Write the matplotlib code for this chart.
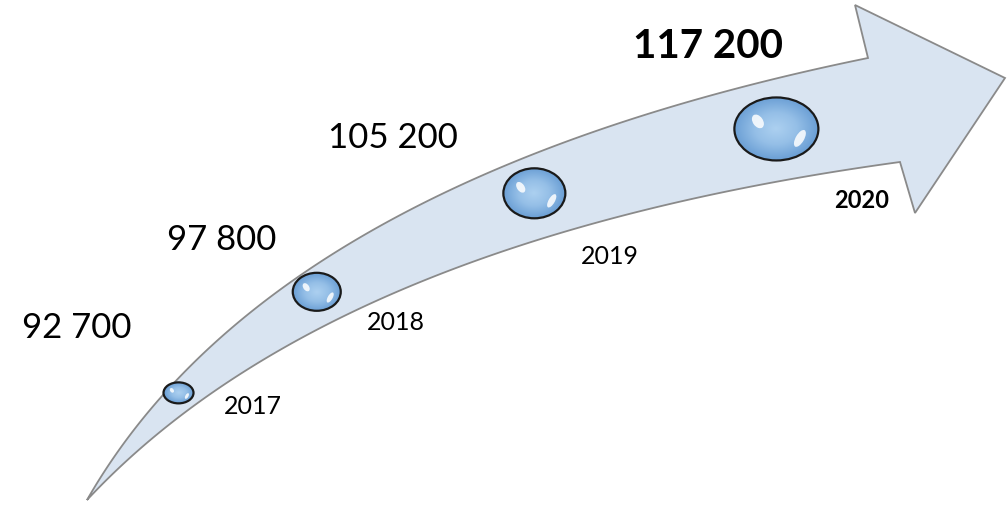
import matplotlib
matplotlib.use("Agg")
import matplotlib.pyplot as plt
import numpy as np
from matplotlib.patches import Polygon, Ellipse

# data
years = ["2017", "2018", "2019", "2020"]
values = [92700, 97800, 105200, 117200]

# layout (pixel space, y downwards)
bubble_t = [0.185, 0.40, 0.665, 0.905]
bubble_w = [30, 48, 62, 84]
bubble_h = [21, 38, 50, 63]
value_pos = [(77, 328), (222, 240), (393, 138), (708, 47)]
year_pos = [(253, 406), (396, 323), (610, 257), (862, 200)]

plt.rcParams['font.family'] = ['Lato', 'DejaVu Sans']

fig = plt.figure(figsize=(10.07, 5.05), dpi=100)
ax = fig.add_axes([0, 0, 1, 1])
ax.set_xlim(0, 1007)
ax.set_ylim(505, 0)
ax.axis('off')


def bezier(p0, c, p2, t):
    t = np.asarray(t)[:, None]
    p0, c, p2 = map(np.array, (p0, c, p2))
    return (1 - t) ** 2 * p0 + 2 * t * (1 - t) * c + t ** 2 * p2


# ------------------------------- arrow body -------------------------------- #
tail = (87, 500)
t = np.linspace(0, 1, 200)
upper = bezier(tail, (270, 180), (868, 58), t)
lower = bezier(tail, (330, 240), (900, 162), t)
head = np.array([[855, 5], [1005, 78], [915, 213]])
outline = np.vstack([upper, head, lower[::-1]])
ax.add_patch(Polygon(outline, closed=True, fc='#d9e4f1', ec='#8a8a8a', lw=1.3, zorder=1))

# --------------------------------- bubbles --------------------------------- #
mid = bezier((87, 495), (300, 200), (884, 110), bubble_t)
yy, xx = np.mgrid[-1:1:200j, -1:1:200j]
grad = np.clip(np.sqrt(xx ** 2 + yy ** 2), 0, 1)
cmap = matplotlib.colors.LinearSegmentedColormap.from_list(
    'bub', ['#acd0f0', '#95bfe7', '#6b9fd5'])

for (cx, cy), w, h in zip(mid, bubble_w, bubble_h):
    e = Ellipse((cx, cy), w, h, fc='none', ec='none', zorder=2)
    ax.add_patch(e)
    im = ax.imshow(grad, cmap=cmap, extent=(cx - w / 2, cx + w / 2, cy + h / 2, cy - h / 2),
                   zorder=2, interpolation='bilinear')
    im.set_clip_path(e)
    # highlights
    ax.add_patch(Ellipse((cx - w * 0.22, cy - h * 0.12), w * 0.12, h * 0.24, angle=-35,
                         fc='white', ec='none', alpha=0.85, zorder=3))
    ax.add_patch(Ellipse((cx + w * 0.28, cy + h * 0.15), w * 0.1, h * 0.3, angle=30,
                         fc='white', ec='none', alpha=0.85, zorder=3))
    ax.add_patch(Ellipse((cx, cy), w, h, fc='none', ec='#1a1a1a', lw=1.6, zorder=4))

# --------------------------------- labels ---------------------------------- #
for i, (v, yr) in enumerate(zip(values, years)):
    last = i == len(values) - 1
    txt = f"{v:,}".replace(",", " ")
    ax.text(*value_pos[i], txt, ha='center', va='center',
            fontsize=29 if last else 25, fontweight='bold' if last else 'normal')
    ax.text(*year_pos[i], yr, ha='center', va='center',
            fontsize=17 if last else 18, fontweight='bold' if last else 'normal')

fig.savefig('out.png', dpi=100)
